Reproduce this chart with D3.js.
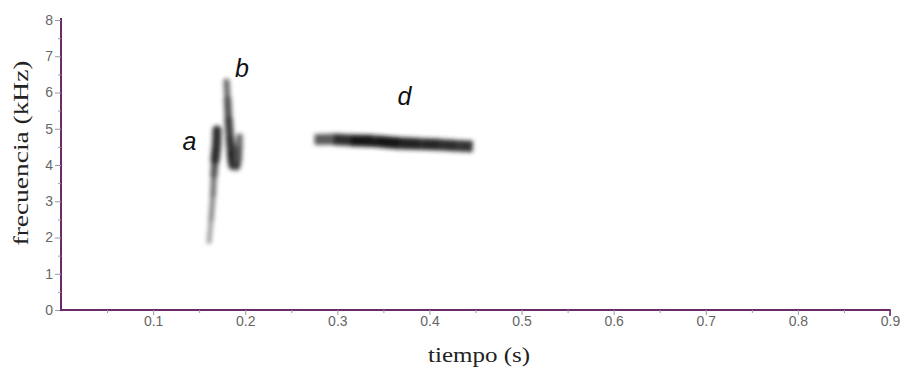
<!DOCTYPE html>
<html><head><meta charset="utf-8">
<script src="https://cdn.jsdelivr.net/npm/d3@7"></script>
<style>html,body{margin:0;padding:0;background:#fff}</style>
</head><body>
<svg id="c" width="904" height="369"></svg>
<script>
// time (s), frequency (kHz), relative intensity (0-1)
const traceA = [
  [0.1607,1.88,0.2],[0.1629,2.49,0.3],[0.1650,3.18,0.4],[0.1660,3.73,0.5],
  [0.1672,4.14,0.75],[0.1690,4.56,1.0],[0.1694,4.97,0.7]
];
const traceB = [
  [0.1797,6.30,0.4],[0.1808,5.80,0.6],[0.1819,5.25,0.7],[0.1835,4.70,0.8],
  [0.1851,4.28,0.85],[0.1868,4.00,0.95],[0.1900,3.98,0.85],[0.1922,4.20,0.7],
  [0.1933,4.56,0.6],[0.1938,4.78,0.45]
];
const traceD = [
  [0.2752,4.70,0.45],[0.2950,4.71,0.75],[0.3138,4.68,0.95],[0.3400,4.66,1.0],
  [0.3680,4.60,0.95],[0.3900,4.58,0.9],[0.4115,4.56,0.88],[0.4300,4.53,0.85],[0.4470,4.51,0.8]
];
const labels = [["a",0.1395,4.6],["b",0.1965,6.62],["d",0.373,5.85]];
const xTicks = [0.1,0.2,0.3,0.4,0.5,0.6,0.7,0.8,0.9];
const yTicks = [0,1,2,3,4,5,6,7,8];
const xTitle = "tiempo (s)";
const yTitle = "frecuencia (kHz)";

const svg = d3.select("#c");
const x = d3.scaleLinear().domain([0,0.9]).range([61,890]);
const y = d3.scaleLinear().domain([0,8]).range([310,20]);
const widthS = d3.scaleLinear().domain([0,1]).range([2.5,10]);
const shade = d3.scaleLinear().domain([0,1]).range(["#c4c4c4","#151515"]);

const defs = svg.append("defs");
defs.append("filter").attr("id","blur").attr("x","-50%").attr("y","-50%").attr("width","200%").attr("height","200%")
  .append("feGaussianBlur").attr("stdDeviation",2);

const axisCol = "#6a2a6a";
// traces
const g = svg.append("g").attr("filter","url(#blur)");
function drawTrace(tr, wScale, cap){
  for(let i=0;i<tr.length-1;i++){
    const a=tr[i], b=tr[i+1];
    const k=(a[2]+b[2])/2;
    g.append("line").attr("x1",x(a[0])).attr("y1",y(a[1])).attr("x2",x(b[0])).attr("y2",y(b[1]))
      .attr("stroke",shade(k)).attr("stroke-width",wScale(k)).attr("stroke-linecap",cap);
  }
}
drawTrace(traceA, widthS, "round");
drawTrace(traceB, widthS, "round");
drawTrace(traceD, d3.scaleLinear().domain([0,1]).range([9,12]), "butt");

// labels
svg.selectAll("text.lab").data(labels).join("text").attr("class","lab")
  .attr("x",d=>x(d[1])).attr("y",d=>y(d[2])).attr("text-anchor","middle")
  .attr("font-family","Liberation Sans, Arial, sans-serif").attr("font-style","italic")
  .attr("font-size",25).attr("fill","#111").attr("dominant-baseline","middle").text(d=>d[0]);

// y axis
const yAxis = d3.axisLeft(y).tickValues(d3.range(0,8.01,0.5)).tickSizeOuter(0)
  .tickFormat(d=> Number.isInteger(d)? d3.format("d")(d):"");
const ya = svg.append("g").attr("transform","translate(61,0)").call(yAxis);
ya.select(".domain").attr("stroke",axisCol).attr("stroke-width",2).attr("d","M0,18V311");
ya.selectAll(".tick line").attr("stroke","#999").attr("x2",d=>Number.isInteger(d)?-6:-3);
ya.selectAll(".tick text").attr("fill","#666").attr("font-family","Liberation Sans, Arial, sans-serif")
  .attr("font-size",14).attr("x",-8);

// x axis
const xAxis = d3.axisBottom(x).tickValues(d3.range(0.05,0.901,0.05)).tickSizeOuter(0)
  .tickFormat(d=> { const r=Math.round(d*100); return r%10===0? (r/100).toFixed(1):""; });
const xa = svg.append("g").attr("transform","translate(0,310)").call(xAxis);
xa.select(".domain").attr("stroke",axisCol).attr("stroke-width",2).attr("d","M60,0H890");
xa.selectAll(".tick line").attr("stroke","#999").attr("y2",d=>Math.round(d*100)%10===0?5:3);
xa.selectAll(".tick text").attr("fill","#666").attr("font-family","Liberation Sans, Arial, sans-serif")
  .attr("font-size",14).attr("dy","0.95em").attr("y",3);
svg.append("line").attr("x1",x(0.9)).attr("x2",x(0.9)).attr("y1",309).attr("y2",316).attr("stroke",axisCol).attr("stroke-width",1.5);

// titles
svg.append("text").attr("x",479).attr("y",362).attr("text-anchor","middle")
  .attr("textLength",102).attr("lengthAdjust","spacingAndGlyphs")
  .attr("font-family","Liberation Serif, Times New Roman, serif").attr("font-size",22).attr("fill","#222").text(xTitle);
svg.append("text").attr("transform","translate(23,153) rotate(-90)").attr("text-anchor","middle")
  .attr("dominant-baseline","middle").attr("textLength",185).attr("lengthAdjust","spacingAndGlyphs")
  .attr("font-family","Liberation Serif, Times New Roman, serif").attr("font-size",22).attr("fill","#222").text(yTitle);
</script>
</body></html>
